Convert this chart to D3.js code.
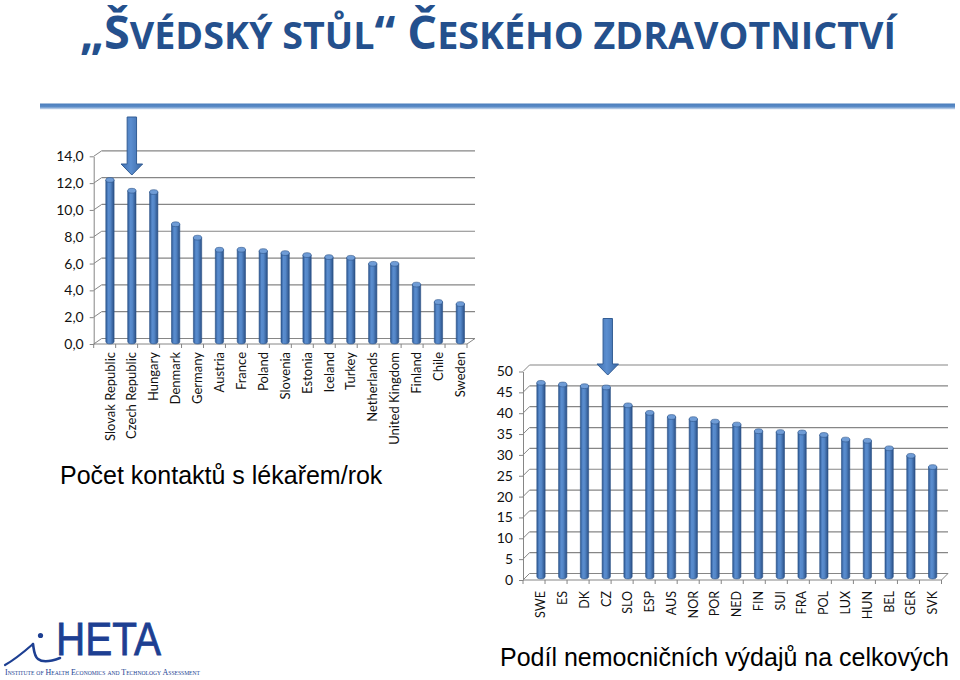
<!DOCTYPE html>
<html><head><meta charset="utf-8">
<script src="https://cdn.jsdelivr.net/npm/d3@7"></script>
<style>body{margin:0;background:#fff}svg{display:block}</style>
</head><body>
<svg id="c" width="960" height="680"></svg>
<script>
// ---- data ----
const countries = ["Slovak Republic","Czech Republic","Hungary","Denmark","Germany","Austria","France","Poland","Slovenia","Estonia","Iceland","Turkey","Netherlands","United Kingdom","Finland","Chile","Sweden"];
const contacts = [12.0,11.2,11.1,8.7,7.7,6.8,6.8,6.7,6.55,6.4,6.25,6.2,5.75,5.75,4.2,2.9,2.75];
const contactTicks = [0,2,4,6,8,10,12,14];
const codes = ["SWE","ES","DK","CZ","SLO","ESP","AUS","NOR","POR","NED","FIN","SUI","FRA","POL","LUX","HUN","BEL","GER","SVK"];
const hospitalShare = [46.3,45.9,45.5,45.2,40.9,39.1,38.1,37.6,37.0,36.3,34.7,34.5,34.4,33.8,32.7,32.4,30.6,28.8,26.1];
const shareTicks = [0,5,10,15,20,25,30,35,40,45,50];
const leftCaption = "Počet kontaktů s lékařem/rok";
const rightCaption = "Podíl nemocničních výdajů na celkových";

const svg = d3.select("#c");
const defs = svg.append("defs");
const g1 = defs.append("linearGradient").attr("id","barG").attr("x1","0").attr("x2","1").attr("y1","0").attr("y2","0");
[["0%","#2c5792"],["30%","#5a8dcf"],["55%","#5487c8"],["100%","#2a4f85"]].forEach(s=>g1.append("stop").attr("offset",s[0]).attr("stop-color",s[1]));
const g2 = defs.append("linearGradient").attr("id","arrG").attr("x1","0").attr("x2","1").attr("y1","0").attr("y2","0");
[["0%","#3f6fae"],["45%","#5b8ed0"],["100%","#3a67a3"]].forEach(s=>g2.append("stop").attr("offset",s[0]).attr("stop-color",s[1]));
const g3 = defs.append("linearGradient").attr("id","lineG").attr("x1","0").attr("x2","0").attr("y1","0").attr("y2","1");
[["0%","#4a7dbb"],["55%","#5b8cc8"],["100%","#dfe8f4"]].forEach(s=>g3.append("stop").attr("offset",s[0]).attr("stop-color",s[1]));

// ---- title (small caps built from big + small capitals) ----
const tt = svg.append("text").attr("y",49).attr("fill","#24508d")
  .style("font-family","'Open Sans'").style("font-weight",700);
const big = 46, small = 37;
const parts = [["„",big],["Š",big],["VÉDSKÝ STŮL",small],["“ ",big],["Č",big],["ESKÉHO ZDRAVOTNICTVÍ",small]];
parts.forEach(p=>tt.append("tspan").text(p[0]).style("font-size",p[1]+"px"));
const tb = tt.node().getBBox();
const tScale = 818/tb.width;
tt.attr("transform",`translate(${80 - tb.x*tScale},0) scale(${tScale},1)`);

// separator line
svg.append("rect").attr("x",40).attr("y",103.5).attr("width",915).attr("height",6).attr("fill","url(#lineG)");

// ---- chart drawer ----
function drawChart(o){
  const n = o.cats.length;
  const yB = d3.scaleLinear().domain([0,o.max]).range([o.y0,o.yTop]);
  const yF = d3.scaleLinear().domain([0,o.max]).range([o.y0+o.dy,o.yTop+o.dy]);
  const fx0 = o.bx0 - o.dx, fx1 = o.bx1 - o.dx;
  const g = svg.append("g");
  const grid = "#868686";
  o.ticks.forEach(t=>{
    g.append("line").attr("x1",o.bx0).attr("x2",o.bx1).attr("y1",yB(t)).attr("y2",yB(t)).attr("stroke",grid).attr("stroke-width",1.2);
    g.append("line").attr("x1",fx0).attr("x2",o.bx0).attr("y1",yF(t)).attr("y2",yB(t)).attr("stroke",grid).attr("stroke-width",1);
  });
  g.append("line").attr("x1",fx0).attr("x2",fx1).attr("y1",yF(0)).attr("y2",yF(0)).attr("stroke",grid);
  g.append("line").attr("x1",fx1).attr("x2",o.bx1).attr("y1",yF(0)).attr("y2",yB(0)).attr("stroke",grid);
  const xF = d3.scaleBand().domain(o.cats).range([fx0,fx1]);
  g.selectAll(".ct").data(d3.range(n+1)).join("line")
    .attr("x1",i=>fx0+i*xF.step()).attr("x2",i=>fx0+i*xF.step())
    .attr("y1",yF(0)).attr("y2",yF(0)+4).attr("stroke",grid);
  const ax = d3.axisLeft(yF).tickValues(o.ticks).tickFormat(o.fmt).tickSize(4).tickSizeOuter(0).tickPadding(6);
  const ag = g.append("g").attr("transform",`translate(${fx0},0)`).call(ax);
  ag.select(".domain").attr("stroke",grid);
  ag.selectAll(".tick line").attr("stroke",grid);
  ag.selectAll("text").style("font-family","Lato").style("font-size","14px").attr("fill","#111");
  const xb = d3.scaleBand().domain(o.cats).range([o.barX0, o.barX0 + n*o.step]);
  const bw = o.bw, ry = 2.4;
  const bars = g.selectAll(".bar").data(o.vals.map((v,i)=>({v,c:o.cats[i]}))).join("g");
  bars.append("path").attr("fill","url(#barG)").attr("stroke","#2d5488").attr("stroke-width",0.6)
    .attr("d",d=>{
      const cx = xb(d.c)+xb.bandwidth()/2, l = cx-bw/2, r = cx+bw/2;
      const top = yB(d.v)+ry, bot = yB(0)+3;
      return `M${l},${top}L${l},${bot}A${bw/2},${ry} 0 0 0 ${r},${bot}L${r},${top}Z`;
    });
  bars.append("ellipse").attr("cx",d=>xb(d.c)+xb.bandwidth()/2).attr("cy",d=>yB(d.v)+ry)
    .attr("rx",bw/2).attr("ry",ry).attr("fill","#6f9cd6").attr("stroke","#2d5488").attr("stroke-width",0.6);
  const cax = d3.axisBottom(xb).tickSize(0);
  const cg = g.append("g").attr("transform",`translate(0,${o.labelTop})`).call(cax);
  cg.select(".domain").remove();
  cg.selectAll("text").attr("x",0).attr("y",0).attr("dy","0.35em")
    .attr("transform","rotate(-90)").attr("text-anchor","end")
    .style("font-family","Lato").style("font-size",o.catSize+"px").attr("fill","#111");
  return {xb, yB};
}

const L = drawChart({cats:countries, vals:contacts, ticks:contactTicks, max:14, fmt:d => d3.format(".1f")(d).replace(".", ","),
  y0:338.5, yTop:150.8, dy:5.5, dx:8, bx0:101.7, bx1:475, barX0:99, step:21.9, bw:8.3, labelTop:352, catSize:13});

const R = drawChart({cats:codes, vals:hospitalShare, ticks:shareTicks, max:50, fmt:d3.format("d"),
  y0:573.5, yTop:365, dy:6.5, dx:6.5, bx0:529.5, bx1:948, barX0:530.1, step:21.76, bw:8.3, labelTop:591, catSize:12.5});

// ---- arrows ----
function arrow(cx, top, headY, tip){
  const sw = 4.7, hw = 10.8;
  svg.append("path").attr("fill","url(#arrG)").attr("stroke","#335d94").attr("stroke-width",1)
    .attr("d",`M${cx-sw},${top}L${cx+sw},${top}L${cx+sw},${headY}L${cx+hw},${headY}L${cx},${tip}L${cx-hw},${headY}L${cx-sw},${headY}Z`);
}
arrow(L.xb(countries[1])+L.xb.bandwidth()/2, 117, 164, 175);
arrow(R.xb(codes[3])+R.xb.bandwidth()/2+1.5, 318.5, 364, 375);

// ---- captions ----
svg.append("text").attr("x",60).attr("y",484).text(leftCaption)
  .style("font-family","'Liberation Sans'").style("font-size","25px").attr("fill","#000");
svg.append("text").attr("x",500).attr("y",666).text(rightCaption)
  .style("font-family","'Liberation Sans'").style("font-size","25px").attr("fill","#000");

// ---- HETA logo ----
const logo = svg.append("g");
logo.append("text").attr("x",56).attr("y",655).text("HETA").attr("textLength",105).attr("lengthAdjust","spacingAndGlyphs")
  .style("font-family","'Liberation Sans'").style("font-size","46px").style("font-weight",400).attr("fill","#1d3f92")
  .attr("stroke","#1d3f92").attr("stroke-width",0.8);
logo.append("circle").attr("cx",40.5).attr("cy",635.5).attr("r",2.6).attr("fill","#1d3f92");
logo.append("path").attr("fill","none").attr("stroke","#1d3f92").attr("stroke-width",2.2).attr("stroke-linecap","round")
  .attr("d","M5,665 C14,660 25,651 33,644");
logo.append("path").attr("fill","none").attr("stroke","#1d3f92").attr("stroke-width",2.6).attr("stroke-linecap","round")
  .attr("d","M33,644 C34,650 34,656 38,659 C43,663 52,661 60,658");
logo.append("text").attr("x",5).attr("y",675).text("Institute of Health Economics and Technology Assessment")
  .attr("textLength",195).attr("lengthAdjust","spacingAndGlyphs")
  .style("font-family","'Liberation Serif'").style("font-size","8.5px").style("font-variant","small-caps").attr("fill","#1d3f92");
</script>
</body></html>
